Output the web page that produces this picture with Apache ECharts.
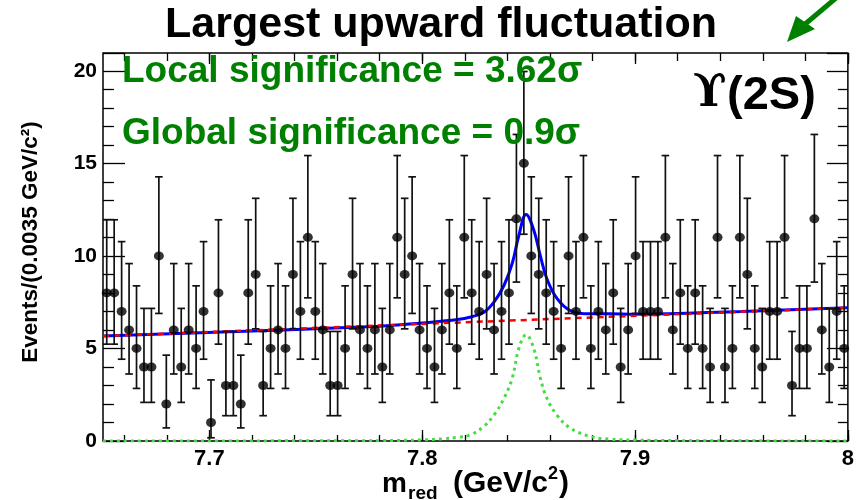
<!DOCTYPE html>
<html>
<head>
<meta charset="utf-8">
<script src="https://cdn.jsdelivr.net/npm/echarts@6/dist/echarts.min.js"></script>
<style>
html,body{margin:0;padding:0;background:#fff;}
#c{width:857px;height:500px;}
</style>
</head>
<body>
<div id="c"></div>
<script>
// ---- data ----
var binLow = 7.65;
var binWidth = 0.0035;
var counts = [
  8,8,7,6,5,4,4,10,2,6,
  4,6,5,7,1,8,3,3,2,8,
  9,3,5,6,5,9,7,11,7,6,
  3,3,5,9,6,5,6,4,6,11,
  9,10,6,5,4,6,8,5,11,8,
  7,9,6,7,8,12,15,10,9,8,
  7,5,10,7,11,5,7,6,8,4,
  6,10,7,7,7,11,6,8,5,8,
  5,4,11,4,5,11,9,5,4,7,
  7,11,3,5,5,12,6,4,7,5
];
// Poisson (Garwood 68%) interval table, index = count
var poissonLow  = [0,0.173,0.708,1.367,2.086,2.840,3.620,4.419,5.232,6.057,6.891,7.734,8.585,9.441,10.30,11.17,12.04,12.92,13.80,14.68,15.57];
var poissonHigh = [1.841,3.300,4.638,5.918,7.163,8.382,9.584,10.77,11.95,13.11,14.27,15.42,16.56,17.70,18.83,19.96,21.08,22.20,23.32,24.44,25.55];

// fit curves
var bkgCurve = [[7.65,5.67],[8.0,7.2]];
var sigCurve = [
  [7.65,0],[7.78,0.02],[7.80,0.06],[7.81,0.12],[7.8166,0.2],[7.8228,0.34],[7.829,0.8],
  [7.8337,1.4],[7.8384,2.3],[7.8423,3.4],[7.8454,5.0],[7.8488,5.74],[7.8524,5.0],
  [7.8555,3.4],[7.8586,2.3],[7.8633,1.4],[7.8695,0.7],[7.8788,0.25],[7.888,0.1],
  [7.90,0.05],[7.92,0.02],[8.0,0]
];
var totCurve = [
  [7.65,5.67],[7.78,6.2],[7.80,6.38],[7.8166,6.56],[7.8228,6.7],[7.829,6.96],
  [7.8337,7.5],[7.8384,8.4],[7.8423,9.6],[7.8454,11.1],[7.8488,12.24],[7.8524,11.4],
  [7.8555,10.0],[7.8586,8.75],[7.8633,7.7],[7.8695,7.05],[7.8788,6.87],[7.888,6.87],
  [7.90,6.85],[7.95,7.0],[8.0,7.2]
];
var xTickLabels = [7.7, 7.8, 7.9, 8.0];
var yMax = 20.96;

// ---- build ----
var points = counts.map(function(n,i){ return [binLow + binWidth*(i+0.5), n]; });
var errData = counts.map(function(n,i){ return [binLow + binWidth*(i+0.5), poissonLow[n], poissonHigh[n]]; });
var xMinor = [];
for (var k = 0; k <= 17; k++) { xMinor.push(+(7.66 + 0.02*k).toFixed(2)); }

var FONT = '"Liberation Sans", Arial, Helvetica, sans-serif';
var chart = echarts.init(document.getElementById('c'), null, {renderer:'canvas'});

function xAxisBase(extra){
  return Object.assign({
    type:'value', min:binLow, max:8.0, gridIndex:0,
    splitLine:{show:false},
    axisLine:{show:false}
  }, extra);
}
function yAxisBase(extra){
  return Object.assign({
    type:'value', min:0, max:yMax, interval:5, gridIndex:0,
    splitLine:{show:false},
    axisLine:{show:false}
  }, extra);
}
function txt(x, y, s, font, align, extra){
  return Object.assign({type:'text', x:x, y:y, z:10,
    style:{text:s, font:font, fill:(extra&&extra.fill)||'#000', textAlign:align, textVerticalAlign:'middle', align:align, verticalAlign:'middle'}},
    extra && extra.el ? extra.el : {});
}

var option = {
  animation:false,
  backgroundColor:'#fff',
  grid:{left:103, top:53, width:750, height:388, show:true, borderColor:'#000', borderWidth:1.5, backgroundColor:'transparent'},
  xAxis:[
    xAxisBase({position:'bottom',
      axisTick:{show:true, inside:true, length:11, customValues:xTickLabels, lineStyle:{color:'#000',width:1.3}},
      axisLabel:{show:true, customValues:xTickLabels, margin:7, color:'#000', fontSize:22, fontWeight:'bold', fontFamily:FONT,
        formatter:function(v){ return Math.abs(v-8)<1e-6 ? '8' : v.toFixed(1); }}
    }),
    xAxisBase({position:'bottom',
      axisTick:{show:true, inside:true, length:6, customValues:xMinor, lineStyle:{color:'#000',width:1.3}},
      axisLabel:{show:false}
    }),
    xAxisBase({position:'top',
      axisTick:{show:true, inside:true, length:11, customValues:xTickLabels, lineStyle:{color:'#000',width:1.3}},
      axisLabel:{show:false}
    }),
    xAxisBase({position:'top',
      axisTick:{show:true, inside:true, length:8, customValues:xMinor, lineStyle:{color:'#000',width:1.3}},
      axisLabel:{show:false}
    })
  ],
  yAxis:[
    yAxisBase({position:'left',
      axisTick:{show:true, inside:true, length:22, lineStyle:{color:'#000',width:1.3}},
      minorTick:{show:true, splitNumber:5, length:11, lineStyle:{color:'#000',width:1.3}},
      axisLabel:{show:true, margin:6, color:'#000', fontSize:21, fontWeight:'bold', fontFamily:FONT}
    }),
    yAxisBase({position:'right',
      axisTick:{show:true, inside:true, length:21, lineStyle:{color:'#000',width:1.3}},
      minorTick:{show:true, splitNumber:5, length:10, lineStyle:{color:'#000',width:1.3}},
      axisLabel:{show:false}
    })
  ],
  series:[
    {type:'line', name:'total', data:totCurve, smooth:0.4, showSymbol:false, symbol:'none',
      lineStyle:{color:'#0000ff', width:3}, z:2},
    {type:'line', name:'bkg', data:bkgCurve, showSymbol:false, symbol:'none',
      lineStyle:{color:'#ff0000', width:2.5, type:[6,5]}, z:3},
    {type:'line', name:'sig', data:sigCurve, smooth:0.4, showSymbol:false, symbol:'none',
      lineStyle:{color:'#44dd44', width:3, type:[3,4]}, z:3},
    {type:'custom', name:'err', data:errData, z:4,
      renderItem:function(params, api){
        var x = api.value(0);
        var lo = api.coord([x, api.value(1)]);
        var hi = api.coord([x, api.value(2)]);
        var h = 3.8;
        var ls = {stroke:'#111', lineWidth:1.7};
        return {type:'group', children:[
          {type:'line', shape:{x1:lo[0],y1:lo[1],x2:hi[0],y2:hi[1]}, style:ls},
          {type:'line', shape:{x1:lo[0]-h,y1:lo[1],x2:lo[0]+h,y2:lo[1]}, style:ls},
          {type:'line', shape:{x1:hi[0]-h,y1:hi[1],x2:hi[0]+h,y2:hi[1]}, style:ls}
        ]};
      }
    },
    {type:'scatter', name:'data', data:points, symbol:'circle', symbolSize:[10,9],
      itemStyle:{color:'#000'}, z:5}
  ],
  graphic:[
    txt(441, 25, 'Largest upward fluctuation', 'bold 43px '+FONT, 'center'),
    txt(122, 72, 'Local significance = 3.62\u03c3', 'bold 37px '+FONT, 'left', {fill:'#008000'}),
    txt(122, 134, 'Global significance = 0.9\u03c3', 'bold 37px '+FONT, 'left', {fill:'#008000'}),
    txt(693, 95, '\u03d2', 'bold 44px "DejaVu Serif", "Liberation Serif", serif', 'left'),
    txt(727, 96, '(2S)', 'bold 47px '+FONT, 'left'),
    txt(31, 242, 'Events/(0.0035 GeV/c\u00b2)', 'bold 22.5px '+FONT, 'center', {el:{rotation:Math.PI/2}}),
    txt(382, 484, 'm', 'bold 28px '+FONT, 'left'),
    txt(408, 494, 'red', 'bold 19px '+FONT, 'left'),
    txt(453, 484, '(GeV/c', 'bold 30px '+FONT, 'left'),
    txt(548, 474, '2', 'bold 18px '+FONT, 'left'),
    txt(559, 484, ')', 'bold 30px '+FONT, 'left'),
    {type:'line', shape:{x1:842, y1:-7, x2:804, y2:25}, style:{stroke:'#008000', lineWidth:5}},
    {type:'polygon', shape:{points:[[787,42],[796,16],[815,29]]}, style:{fill:'#008000'}}
  ]
};
chart.setOption(option);
</script>
</body>
</html>
